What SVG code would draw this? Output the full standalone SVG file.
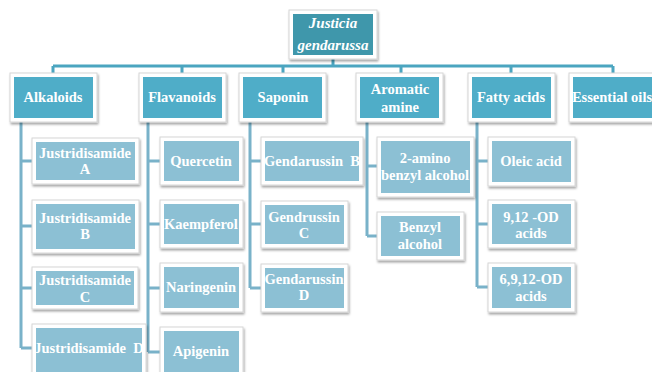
<svg xmlns="http://www.w3.org/2000/svg" width="652" height="372" viewBox="0 0 652 372">
<defs>
<filter id="sh" x="-10%" y="-10%" width="125%" height="130%">
<feDropShadow dx="1" dy="2" stdDeviation="1.2" flood-color="#000" flood-opacity="0.35"/>
</filter>
</defs>
<style>
.frame{fill:#fff;stroke:#d6d6d6;stroke-width:1;filter:url(#sh)}
.r{fill:#3f97ab}
.l1{fill:#4fadc8}
.l2{fill:#8cc0d4}
.c1{stroke:#4ba5c0;stroke-width:3;fill:none}
.c2{stroke:#79b2c9;stroke-width:3;fill:none}
text{font-family:"Liberation Serif","Times New Roman",serif;font-weight:bold;font-size:14.5px;fill:#fff;text-anchor:middle}
.it{font-style:italic;font-size:15px}
</style>
<g id="connectors">
<path class="c1" d="M333 59V66M53 66H613M53 66V73M182 66V73M283 66V73M401 66V73M511 66V73M613 66V73"/>
<path class="c2" d="M21 122V348M21 161H32M21 226H32M21 288H32M21 348H32"/>
<path class="c2" d="M148 122V352M148 161H160M148 224H160M148 288H160M148 352H160"/>
<path class="c2" d="M250 122V288M250 161H261M250 224H261M250 288H261"/>
<path class="c2" d="M367 122V236M367 166H377M367 236H377"/>
<path class="c2" d="M477 122V287M477 161H488M477 224H488M477 287H488"/>
</g>
<g id="root"><rect class="frame" x="289" y="10" width="88" height="49"/><rect class="r" x="293" y="14" width="80" height="41"/><text class="it" x="333" y="28">Justicia</text><text class="it" x="333" y="50">gendarussa</text></g>
<g id="alkaloids"><rect class="frame" x="10" y="73" width="87" height="49"/><rect class="l1" x="14" y="77" width="79" height="41"/><text x="53" y="102">Alkaloids</text></g>
<g id="flavanoids"><rect class="frame" x="139" y="73" width="87" height="49"/><rect class="l1" x="143" y="77" width="79" height="41"/><text x="182" y="102">Flavanoids</text></g>
<g id="saponin"><rect class="frame" x="239" y="73" width="87" height="49"/><rect class="l1" x="243" y="77" width="79" height="41"/><text x="283" y="102">Saponin</text></g>
<g id="aromatic"><rect class="frame" x="356" y="73" width="87" height="49"/><rect class="l1" x="360" y="77" width="79" height="41"/><text x="400" y="94">Aromatic</text><text x="400" y="112">amine</text></g>
<g id="fatty"><rect class="frame" x="468" y="73" width="87" height="49"/><rect class="l1" x="472" y="77" width="79" height="41"/><text x="511" y="102">Fatty acids</text></g>
<g id="essential"><rect class="frame" x="569" y="73" width="90" height="49"/><rect class="l1" x="573" y="77" width="82" height="41"/><text x="612" y="102">Essential oils</text></g>
<g id="jA"><rect class="frame" x="32" y="138" width="107" height="46"/><rect class="l2" x="36" y="142" width="99" height="38"/><text x="85" y="158">Justridisamide</text><text x="85" y="174">A</text></g>
<g id="jB"><rect class="frame" x="32" y="200" width="107" height="53"/><rect class="l2" x="36" y="204" width="99" height="45"/><text x="85" y="223">Justridisamide</text><text x="85" y="239">B</text></g>
<g id="jC"><rect class="frame" x="32" y="267" width="106" height="42"/><rect class="l2" x="36" y="271" width="98" height="34"/><text x="85" y="285">Justridisamide</text><text x="85" y="302">C</text></g>
<g id="jD"><rect class="frame" x="32" y="324" width="114" height="52"/><rect class="l2" x="36" y="328" width="106" height="44"/><text x="89" y="353" xml:space="preserve">Justridisamide  D</text></g>
<g id="quercetin"><rect class="frame" x="160" y="137" width="83" height="48"/><rect class="l2" x="164" y="141" width="75" height="40"/><text x="201" y="166">Quercetin</text></g>
<g id="kaempferol"><rect class="frame" x="160" y="200" width="83" height="48"/><rect class="l2" x="164" y="204" width="75" height="40"/><text x="201" y="229">Kaempferol</text></g>
<g id="naringenin"><rect class="frame" x="160" y="263" width="83" height="49"/><rect class="l2" x="164" y="267" width="75" height="41"/><text x="201" y="292">Naringenin</text></g>
<g id="apigenin"><rect class="frame" x="160" y="327" width="83" height="50"/><rect class="l2" x="164" y="331" width="75" height="42"/><text x="201" y="356">Apigenin</text></g>
<g id="gB"><rect class="frame" x="261" y="137" width="102" height="48"/><rect class="l2" x="265" y="141" width="94" height="40"/><text x="312" y="166" xml:space="preserve">Gendarussin  B</text></g>
<g id="gC"><rect class="frame" x="261" y="201" width="87" height="47"/><rect class="l2" x="265" y="205" width="79" height="39"/><text x="304" y="222">Gendrussin</text><text x="304" y="238">C</text></g>
<g id="gD"><rect class="frame" x="261" y="264" width="87" height="48"/><rect class="l2" x="265" y="268" width="79" height="40"/><text x="304" y="284">Gendarussin</text><text x="304" y="300">D</text></g>
<g id="amino"><rect class="frame" x="377" y="137" width="97" height="60"/><rect class="l2" x="381" y="141" width="89" height="52"/><text x="425" y="163">2-amino</text><text x="425" y="180">benzyl alcohol</text></g>
<g id="benzyl"><rect class="frame" x="377" y="212" width="87" height="48"/><rect class="l2" x="381" y="216" width="79" height="40"/><text x="420" y="232">Benzyl</text><text x="420" y="249">alcohol</text></g>
<g id="oleic"><rect class="frame" x="488" y="137" width="87" height="49"/><rect class="l2" x="492" y="141" width="79" height="41"/><text x="531" y="166">Oleic acid</text></g>
<g id="od912"><rect class="frame" x="488" y="200" width="87" height="48"/><rect class="l2" x="492" y="204" width="79" height="40"/><text x="531" y="222">9,12 -OD</text><text x="531" y="238">acids</text></g>
<g id="od6912"><rect class="frame" x="488" y="263" width="87" height="49"/><rect class="l2" x="492" y="267" width="79" height="41"/><text x="531" y="284">6,9,12-OD</text><text x="531" y="301">acids</text></g>
</svg>
